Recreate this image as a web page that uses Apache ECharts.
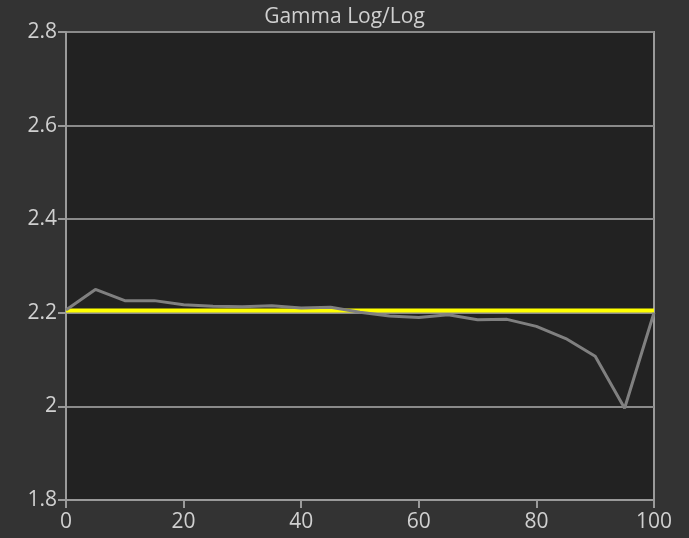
<!DOCTYPE html>
<html>
<head>
<meta charset="utf-8">
<script src="https://cdn.jsdelivr.net/npm/echarts@6/dist/echarts.min.js"></script>
<style>
html,body{margin:0;padding:0;background:#333333;}
#c{width:689px;height:538px;}
</style>
</head>
<body>
<div id="c"></div>
<script>
var xValues = [0,5,10,15,20,25,30,35,40,45,50,55,60,65,70,75,80,85,90,95,100];
var measured = [2.206,2.25,2.226,2.226,2.217,2.214,2.213,2.215,2.210,2.212,2.201,2.193,2.190,2.196,2.185,2.186,2.171,2.145,2.107,1.996,2.200];
var target = [2.205,2.205,2.205,2.205,2.205,2.205,2.205,2.205,2.205,2.205,2.205,2.205,2.205,2.205,2.205,2.205,2.205,2.205,2.205,2.205,2.205];
var titleText = 'Gamma Log/Log';

var chart = echarts.init(document.getElementById('c'));
var font = '"Open Sans", "Noto Sans", sans-serif';
chart.setOption({
  backgroundColor: '#333333',
  animation: false,
  title: {
    text: titleText, left: 'center', top: 2,
    textStyle: {color: '#d0d0d0', fontSize: 21, fontWeight: 'normal', fontFamily: font}
  },
  grid: {
    left: 66, right: 35, top: 32, bottom: 38,
    show: true, backgroundColor: '#222222', borderColor: '#9a9a9a', borderWidth: 2
  },
  xAxis: {
    type: 'value', min: 0, max: 100, interval: 20,
    axisLine: {show: true, lineStyle: {color: '#9a9a9a', width: 2}},
    axisTick: {show: true, length: 8, lineStyle: {color: '#9a9a9a', width: 2}},
    splitLine: {show: false},
    axisLabel: {color: '#d0d0d0', fontSize: 21, fontFamily: font, margin: 12}
  },
  yAxis: {
    type: 'value', min: 1.8, max: 2.8, interval: 0.2,
    axisLine: {show: true, lineStyle: {color: '#9a9a9a', width: 2}},
    axisTick: {show: true, length: 8, lineStyle: {color: '#9a9a9a', width: 2}},
    splitLine: {show: true, lineStyle: {color: '#8a8a8a', width: 2}},
    axisLabel: {color: '#d0d0d0', fontSize: 21, fontFamily: font, margin: 9}
  },
  series: [
    {
      type: 'line', name: 'Target', showSymbol: false, z: 2,
      data: xValues.map(function(x,i){return [x, target[i]];}),
      lineStyle: {color: '#ffff00', width: 4}
    },
    {
      type: 'line', name: 'Measured', showSymbol: false, z: 3,
      data: xValues.map(function(x,i){return [x, measured[i]];}),
      lineStyle: {color: '#808080', width: 3}
    }
  ]
});
</script>
</body>
</html>
